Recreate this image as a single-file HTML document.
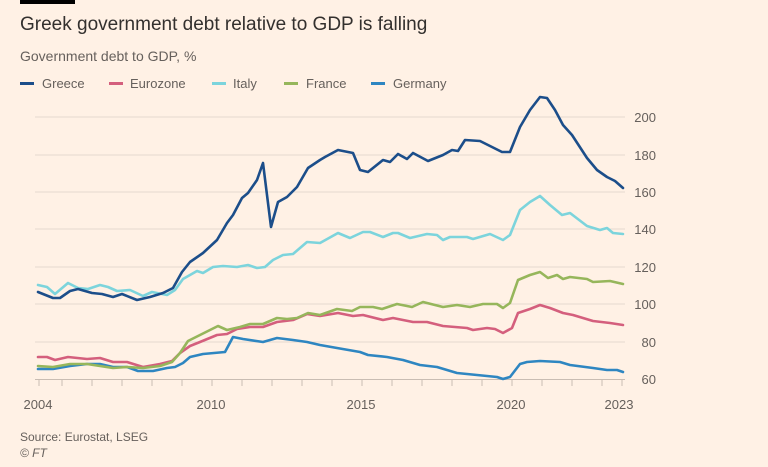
<!DOCTYPE html>
<html><head><meta charset="utf-8"><style>
body{margin:0;background:#fff1e5;font-family:"Liberation Sans",sans-serif;}
svg{display:block}
</style></head><body>
<svg width="768" height="467" viewBox="0 0 768 467" xmlns="http://www.w3.org/2000/svg">
<rect width="768" height="467" fill="#fff1e5"/>
<rect x="20" y="0" width="55" height="4" fill="#000"/>
<text x="20" y="30" font-size="19" fill="#33302e">Greek government debt relative to GDP is falling</text>
<text x="20" y="61" font-size="14" fill="#66605c">Government debt to GDP, %</text>
<g font-size="13" fill="#66605c">
<rect x="20" y="82" width="14" height="3" fill="#1c4e8a"/><text x="42" y="88">Greece</text>
<rect x="109" y="82" width="14" height="3" fill="#d45f7d"/><text x="130" y="88">Eurozone</text>
<rect x="212" y="82" width="14" height="3" fill="#7cd4dc"/><text x="233" y="88">Italy</text>
<rect x="284" y="82" width="14" height="3" fill="#96b65b"/><text x="306" y="88">France</text>
<rect x="371" y="82" width="14" height="3" fill="#2e86c1"/><text x="393" y="88">Germany</text>
</g>
<g stroke="#e6d9ce" stroke-width="1">
<line x1="35" x2="625" y1="117" y2="117"/><line x1="35" x2="625" y1="155" y2="155"/>
<line x1="35" x2="625" y1="192" y2="192"/><line x1="35" x2="625" y1="229" y2="229"/>
<line x1="35" x2="625" y1="267" y2="267"/><line x1="35" x2="625" y1="304" y2="304"/>
<line x1="35" x2="625" y1="342" y2="342"/>
</g>
<g stroke="#c9bdb3" stroke-width="1">
<line x1="35" x2="625" y1="379.5" y2="379.5"/>
<line x1="39" x2="39" y1="379" y2="386"/><line x1="62" x2="62" y1="379" y2="386"/><line x1="92" x2="92" y1="379" y2="386"/><line x1="122" x2="122" y1="379" y2="386"/><line x1="152" x2="152" y1="379" y2="386"/><line x1="182" x2="182" y1="379" y2="386"/><line x1="212" x2="212" y1="379" y2="386"/><line x1="242" x2="242" y1="379" y2="386"/><line x1="272" x2="272" y1="379" y2="386"/><line x1="302" x2="302" y1="379" y2="386"/><line x1="332" x2="332" y1="379" y2="386"/><line x1="362" x2="362" y1="379" y2="386"/><line x1="392" x2="392" y1="379" y2="386"/><line x1="422" x2="422" y1="379" y2="386"/><line x1="452" x2="452" y1="379" y2="386"/><line x1="482" x2="482" y1="379" y2="386"/><line x1="512" x2="512" y1="379" y2="386"/><line x1="542" x2="542" y1="379" y2="386"/><line x1="572" x2="572" y1="379" y2="386"/><line x1="602" x2="602" y1="379" y2="386"/><line x1="622" x2="622" y1="379" y2="386"/>
</g>
<g font-size="13" fill="#66605c" text-anchor="end">
<text x="656" y="122">200</text><text x="656" y="160">180</text><text x="656" y="197">160</text><text x="656" y="234">140</text><text x="656" y="272">120</text><text x="656" y="309">100</text><text x="656" y="347">80</text><text x="656" y="384">60</text>
</g>
<g font-size="13" fill="#66605c" text-anchor="middle">
<text x="38" y="409">2004</text><text x="211" y="409">2010</text><text x="361" y="409">2015</text><text x="511" y="409">2020</text><text x="619" y="409">2023</text>
</g>
<g fill="none" stroke-width="2.6" stroke-linejoin="round" stroke-linecap="round">
<polyline stroke="#2e86c1" points="38,369 53,369 70,366 87,364 100,364 113,367 127,367 138,371 153,371 167,368 175,367 183,363 190,357 203,354 225,352 233,337 243,339 263,342 277,338 293,340 307,342 320,345 337,348 360,352 368,355 387,357 403,360 420,365 437,367 457,373 477,375 497,377 503,379 510,377 520,364 527,362 540,361 560,362 570,365 593,368 607,370 617,370 623,372"/>
<polyline stroke="#d45f7d" points="38,357 47,357 55,360 68,357 87,359 100,358 113,362 127,362 143,367 160,364 172,361 180,353 190,346 200,342 217,335 227,334 237,329 250,327 263,327 277,322 293,320 307,314 320,316 338,313 353,316 363,315 383,320 393,318 413,322 427,322 443,326 467,328 473,330 487,328 495,329 503,333 512,328 518,313 530,309 540,305 550,308 563,313 573,315 593,321 610,323 623,325"/>
<polyline stroke="#96b65b" points="38,366 53,367 70,364 87,364 100,366 113,368 127,367 143,368 160,366 172,362 180,353 188,341 200,335 210,330 218,326 227,330 240,327 250,324 263,324 277,318 287,319 297,318 308,313 320,315 337,309 352,311 360,307 373,307 382,309 397,304 412,307 423,302 443,307 457,305 470,307 483,304 497,304 503,308 510,303 518,280 530,275 540,272 548,278 557,275 563,279 570,277 587,279 593,282 610,281 623,284"/>
<polyline stroke="#7cd4dc" points="38,285 47,287 55,294 68,283 78,288 88,289 100,285 108,287 117,291 130,290 143,296 152,292 167,295 175,290 183,279 197,271 203,273 213,267 223,266 237,267 248,265 257,268 265,267 273,260 283,255 293,254 307,242 320,243 338,233 350,238 363,232 370,232 383,237 393,233 398,233 410,238 427,234 437,235 443,240 450,237 467,237 473,239 490,234 503,240 510,235 520,210 530,202 540,196 550,205 562,215 570,213 587,226 600,230 607,228 613,233 623,234"/>
<polyline stroke="#1c4e8a" points="38,292 53,298 60,298 70,291 78,289 92,293 102,294 113,297 122,294 137,300 150,297 163,293 173,288 182,272 190,262 203,253 217,240 227,223 233,215 242,198 248,193 257,180 263,163 271,227 278,202 287,197 297,187 308,168 320,160 325,157 338,150 353,153 360,170 368,172 383,160 390,162 398,154 407,159 413,153 428,161 443,155 452,150 458,151 465,140 480,141 502,152 510,152 520,127 530,110 540,97 547,98 555,110 563,125 572,135 587,158 597,170 607,177 615,181 623,188"/>
</g>
<text x="20" y="441" font-size="12" fill="#66605c">Source: Eurostat, LSEG</text>
<text x="20" y="457" font-size="12" font-style="italic" fill="#66605c">© FT</text>
</svg>
</body></html>
